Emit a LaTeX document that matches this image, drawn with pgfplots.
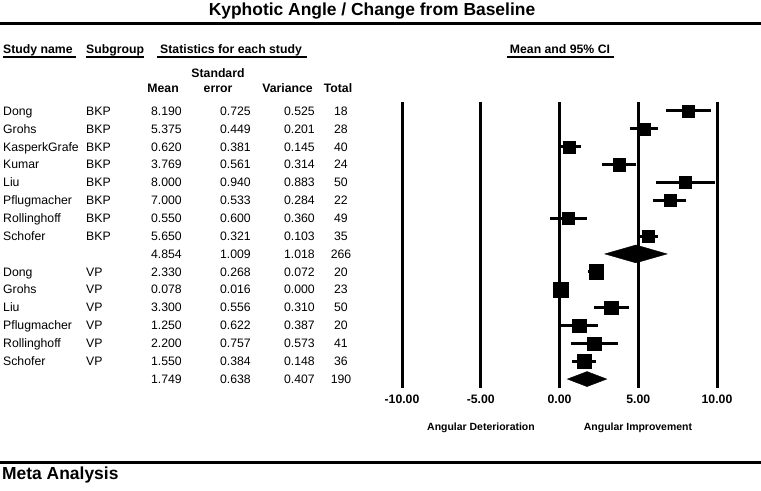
\documentclass[border=0pt]{standalone}
\usepackage{fontspec}
\setmainfont{Liberation Sans}
\usepackage{pgfplots}
\pgfplotsset{compat=1.18}

\newcommand\tn{\fontsize{12.3}{14}\selectfont}
\newcommand\tb{\fontsize{12.3}{14}\selectfont\bfseries}

\begin{document}
\begin{tikzpicture}
\useasboundingbox (0,0) rectangle (761bp,491bp);
\begin{scope}[x=1bp,y=-1bp,yshift=491bp]
% title and rules
\node[anchor=base,inner sep=0] at (372,15.5) {\fontsize{17.5}{20}\selectfont\bfseries Kyphotic Angle / Change from Baseline};
\draw[line width=3bp] (0,24) -- (761,24);
\draw[line width=3bp] (0,463) -- (761,463);
\node[anchor=base west,inner sep=0] at (2,480) {\fontsize{17.5}{20}\selectfont\bfseries Meta Analysis};
% headers
\node[anchor=base west,inner sep=0] at (3,53.4) {\tb Study name};
\node[anchor=base west,inner sep=0] at (86,53.4) {\tb Subgroup};
\node[anchor=base west,inner sep=0] at (160,53.4) {\tb Statistics for each study};
\draw[line width=1.5bp] (3,57) -- (76,57);
\draw[line width=1.5bp] (86,57) -- (144,57);
\draw[line width=1.5bp] (157,57) -- (307,57);
\node[anchor=base,inner sep=0] at (560,53.4) {\tb Mean and 95\% CI};
\draw[line width=1.5bp] (507,57) -- (614,57);
\node[anchor=base,inner sep=0] at (218,77.4) {\tb Standard};
\node[anchor=base east,inner sep=0] at (179,92.4) {\tb Mean};
\node[anchor=base,inner sep=0] at (218,92.4) {\tb error};
\node[anchor=base east,inner sep=0] at (313,92.4) {\tb Variance};
\node[anchor=base,inner sep=0] at (338,92.4) {\tb Total};
% table rows
\foreach \i/\nm/\sg/\m/\se/\v/\t in {
1/Dong/BKP/8.190/0.725/0.525/18,
2/Grohs/BKP/5.375/0.449/0.201/28,
3/KasperkGrafe/BKP/0.620/0.381/0.145/40,
4/Kumar/BKP/3.769/0.561/0.314/24,
5/Liu/BKP/8.000/0.940/0.883/50,
6/Pflugmacher/BKP/7.000/0.533/0.284/22,
7/Rollinghoff/BKP/0.550/0.600/0.360/49,
8/Schofer/BKP/5.650/0.321/0.103/35,
9/ / /4.854/1.009/1.018/266,
10/Dong/VP/2.330/0.268/0.072/20,
11/Grohs/VP/0.078/0.016/0.000/23,
12/Liu/VP/3.300/0.556/0.310/50,
13/Pflugmacher/VP/1.250/0.622/0.387/20,
14/Rollinghoff/VP/2.200/0.757/0.573/41,
15/Schofer/VP/1.550/0.384/0.148/36,
16/ / /1.749/0.638/0.407/190}{
\pgfmathsetmacro\yy{111+17.86*(\i-1)+4.4}
\node[anchor=base west,inner sep=0] at (3,\yy) {\tn \nm};
\node[anchor=base west,inner sep=0] at (86,\yy) {\tn \sg};
\node[anchor=base east,inner sep=0] at (182,\yy) {\tn \m};
\node[anchor=base east,inner sep=0] at (251,\yy) {\tn \se};
\node[anchor=base east,inner sep=0] at (315,\yy) {\tn \v};
\node[anchor=base,inner sep=0] at (341,\yy) {\tn \t};
}
\node[anchor=base,inner sep=0] at (481,430.7) {\fontsize{10.5}{12}\selectfont\bfseries Angular Deterioration};
\node[anchor=base,inner sep=0] at (638,430.7) {\fontsize{10.5}{12}\selectfont\bfseries Angular Improvement};
\end{scope}

\begin{axis}[
  at={(402bp,389bp)}, anchor=north west,
  scale only axis, width=315bp, height=286bp,
  xmin=-10, xmax=10, ymin=0.5, ymax=16.5, y dir=reverse,
  xtick={-10,-5,0,5,10},
  xticklabels={-10.00,-5.00,0.00,5.00,10.00},
  ytick=\empty,
  xmajorgrids, grid style={black, line width=3bp},
  axis line style={draw=none},
  major tick length=0pt,
  xticklabel style={font=\tb, yshift=-3bp},
  clip=false,
  forest/.style={black, only marks, mark=square*,
    mark options={fill=black, draw=black, line width=0.3pt},
    error bars/.cd, x dir=both, x explicit, error mark=none,
    error bar style={line width=3bp, black}},
]
% BKP studies (mean, row) +- (1.96*SE)
\addplot[mark size=6bp, forest] coordinates {
  (8.190,1) +- (1.421,0)
  (5.375,2) +- (0.880,0)
  (0.620,3) +- (0.747,0)
  (5.650,8) +- (0.629,0)
  (8.000,5) +- (1.842,0)
};
\addplot[mark size=5.9bp, forest] coordinates {
  (7.000,6) +- (1.045,0)
};
\addplot[mark size=6.2bp, forest] coordinates {
  (3.769,4) +- (1.100,0)
  (0.550,7) +- (1.176,0)
};
% VP studies
\addplot[mark size=7.3bp, forest] coordinates {
  (2.330,10) +- (0.525,0)
  (0.078,11) +- (0.031,0)
};
\addplot[mark size=6.9bp, forest] coordinates {
  (3.300,12) +- (1.090,0)
};
\addplot[mark size=6.6bp, forest] coordinates {
  (1.250,13) +- (1.219,0)
  (2.200,14) +- (1.484,0)
};
\addplot[mark size=6.8bp, forest] coordinates {
  (1.550,15) +- (0.753,0)
};
% subgroup summaries (diamonds)
\addplot[fill=black, draw=black, line width=0.4pt] coordinates {(2.876,9) (4.854,8.5) (6.832,9) (4.854,9.5)} -- cycle;
\addplot[fill=black, draw=black, line width=0.4pt] coordinates {(0.499,16) (1.749,15.58) (2.999,16) (1.749,16.42)} -- cycle;
\end{axis}
\end{tikzpicture}
\end{document}
